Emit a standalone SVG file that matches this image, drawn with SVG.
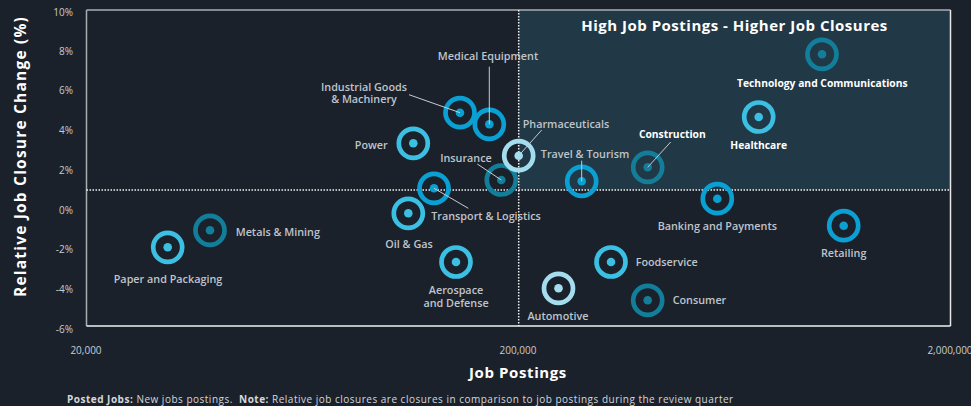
<svg xmlns="http://www.w3.org/2000/svg" width="971" height="406" viewBox="0 0 971 406">
<style>
text{font-family:"Open Sans","Liberation Sans",sans-serif}
.lab{font-size:10.8px;font-weight:600;fill:#BFC5CB}
.hl{font-size:10.3px;font-weight:700;fill:#FFFFFF}
.tick{font-size:10px;fill:#C8CCD1}
.ring{fill:none;stroke-width:4.7}
.c1{stroke:#127E9A}.d1{fill:#127E9A}
.c2{stroke:#3BC0E3}.d2{fill:#3BC0E3}
.c3{stroke:#0AA0D4}.d3{fill:#0AA0D4}
.c4{stroke:#A4DDEE}.d4{fill:#A4DDEE}
.dot{stroke:#F2F2F2;stroke-width:1.5;stroke-dasharray:1.5 1.5;fill:none}
.lead{stroke:#C8CCD1;stroke-width:1}
</style>
<rect width="971" height="406" fill="#1B212B"/>
<g id="plot">
<rect x="518.7" y="10" width="431.8" height="180" fill="#213846"/>
<line x1="86.5" y1="10" x2="950.5" y2="10" stroke="#A9AEB3" stroke-width="1.5"/>
<line x1="86.5" y1="10" x2="86.5" y2="326" stroke="#A9AEB3" stroke-width="1.5"/>
<line x1="950.5" y1="10" x2="950.5" y2="326" stroke="#E8E8E8" stroke-width="1.5"/>
<line x1="86.5" y1="326" x2="950.5" y2="326" stroke="#F2F2F2" stroke-width="1.5"/>
<line class="dot" x1="86.5" y1="190" x2="950.5" y2="190"/>
<line class="dot" x1="518.7" y1="10" x2="518.7" y2="326"/>
</g>
<g id="yticks" text-anchor="end">
<text x="73" y="15.5" class="tick">10%</text>
<text x="73" y="55" class="tick">8%</text>
<text x="73" y="94" class="tick">6%</text>
<text x="73" y="134" class="tick">4%</text>
<text x="73" y="174" class="tick">2%</text>
<text x="73" y="213.5" class="tick">0%</text>
<text x="73" y="253" class="tick">-2%</text>
<text x="73" y="293" class="tick">-4%</text>
<text x="73" y="332.5" class="tick">-6%</text>
</g>
<g id="xticks" text-anchor="middle">
<text x="86" y="353.5" class="tick">20,000</text>
<text x="518" y="353.5" class="tick">200,000</text>
<text x="950" y="353.5" class="tick">2,000,000</text>
</g>
<text x="734.5" y="31" text-anchor="middle" style="font-size:15px;font-weight:700;fill:#FFFFFF;letter-spacing:0.5px">High Job Postings - Higher Job Closures</text>
<text transform="translate(25.5,156.5) rotate(-90)" text-anchor="middle" style="font-size:15.5px;font-weight:700;fill:#FFFFFF;letter-spacing:1.2px">Relative Job Closure Change (%)</text>
<text x="518" y="377.5" text-anchor="middle" style="font-size:15px;font-weight:700;fill:#FFFFFF;letter-spacing:0.6px">Job Postings</text>
<text x="67" y="403" style="font-size:10px;fill:#D5D8DC;letter-spacing:0.5px"><tspan font-weight="700">Posted Jobs:</tspan> New jobs postings.&#160; <tspan font-weight="700">Note:</tspan> Relative job closures are closures in comparison to job postings during the review quarter</text>

<g id="n-metals"><circle class="ring c1" cx="210" cy="230.3" r="14.5"/><circle class="d1" cx="210" cy="230.3" r="4.3"/><text class="lab" x="235.7" y="235.5">Metals &amp; Mining</text></g>
<g id="n-paper"><circle class="ring c2" cx="167.7" cy="247.3" r="14.5"/><circle class="d2" cx="167.7" cy="247.3" r="4.3"/><text class="lab" x="168" y="282.5" text-anchor="middle">Paper and Packaging</text></g>
<g id="n-power"><circle class="ring c2" cx="413.3" cy="143.3" r="14.5"/><circle class="d2" cx="413.3" cy="143.3" r="4.3"/><text class="lab" x="387.7" y="148.5" text-anchor="end">Power</text></g>
<g id="n-oilgas"><circle class="ring c2" cx="408.3" cy="213.3" r="14.5"/><circle class="d2" cx="408.3" cy="213.3" r="4.3"/><text class="lab" x="409" y="248" text-anchor="middle">Oil &amp; Gas</text></g>
<g id="n-transport"><circle class="ring c3" cx="434" cy="188.3" r="14.5"/><circle class="d3" cx="434" cy="188.3" r="4.3"/><text class="lab" x="486" y="219.5" text-anchor="middle">Transport &amp; Logistics</text></g>
<g id="n-aerospace"><circle class="ring c2" cx="456" cy="262" r="14.5"/><circle class="d2" cx="456" cy="262" r="4.3"/><text class="lab" x="456" y="294.3" text-anchor="middle">Aerospace<tspan x="456" dy="12.4">and Defense</tspan></text></g>
<g id="n-industrial"><circle class="ring c3" cx="460" cy="112.7" r="14.5"/><circle class="d3" cx="460" cy="112.7" r="4.3"/><text class="lab" x="364" y="90.6" text-anchor="middle">Industrial Goods<tspan x="364" dy="12.2">&amp; Machinery</tspan></text></g>
<g id="n-medical"><circle class="ring c3" cx="489.3" cy="124.3" r="14.5"/><circle class="d3" cx="489.3" cy="124.3" r="4.3"/><text class="lab" x="488" y="59.5" text-anchor="middle">Medical Equipment</text></g>
<g id="n-insurance"><circle class="ring c1" cx="501.3" cy="180" r="14.5"/><circle class="d1" cx="501.3" cy="180" r="4.3"/><text class="lab" x="466" y="161.5" text-anchor="middle">Insurance</text></g>
<g id="n-pharma"><circle class="ring c4" cx="518.7" cy="155.7" r="14.5"/><circle class="d4" cx="518.7" cy="155.7" r="4.3"/><text class="lab" x="566" y="127.5" text-anchor="middle">Pharmaceuticals</text></g>
<g id="n-automotive"><circle class="ring c4" cx="558.5" cy="288.3" r="14.5"/><circle class="d4" cx="558.5" cy="288.3" r="4.3"/><text class="lab" x="558" y="320" text-anchor="middle">Automotive</text></g>
<g id="n-travel"><circle class="ring c3" cx="581.7" cy="181.3" r="14.5"/><circle class="d3" cx="581.7" cy="181.3" r="4.3"/><text class="lab" x="585" y="157.5" text-anchor="middle">Travel &amp; Tourism</text></g>
<g id="n-foodservice"><circle class="ring c2" cx="611" cy="262" r="14.5"/><circle class="d2" cx="611" cy="262" r="4.3"/><text class="lab" x="635.7" y="266">Foodservice</text></g>
<g id="n-construction"><circle class="ring c1" cx="647.7" cy="167.3" r="14.5"/><circle class="d1" cx="647.7" cy="167.3" r="4.3"/><text class="hl" x="672.3" y="137.5" text-anchor="middle">Construction</text></g>
<g id="n-consumer"><circle class="ring c1" cx="647.7" cy="300.3" r="14.5"/><circle class="d1" cx="647.7" cy="300.3" r="4.3"/><text class="lab" x="672.7" y="304">Consumer</text></g>
<g id="n-banking"><circle class="ring c3" cx="717.3" cy="198.7" r="14.5"/><circle class="d3" cx="717.3" cy="198.7" r="4.3"/><text class="lab" x="717.3" y="230" text-anchor="middle">Banking and Payments</text></g>
<g id="n-healthcare"><circle class="ring c2" cx="758.7" cy="117" r="14.5"/><circle class="d2" cx="758.7" cy="117" r="4.3"/><text class="hl" x="758.7" y="149" text-anchor="middle">Healthcare</text></g>
<g id="n-tech"><circle class="ring c1" cx="822" cy="54.3" r="14.5"/><circle class="d1" cx="822" cy="54.3" r="4.3"/><text class="hl" x="822.3" y="86.5" text-anchor="middle">Technology and Communications</text></g>
<g id="n-retailing"><circle class="ring c3" cx="843.7" cy="225.7" r="14.5"/><circle class="d3" cx="843.7" cy="225.7" r="4.3"/><text class="lab" x="843.7" y="257" text-anchor="middle">Retailing</text></g>

<g id="leaders">
<line class="lead" x1="409" y1="94.7" x2="460" y2="112.7"/>
<line class="lead" x1="489.3" y1="66.7" x2="489.3" y2="124.3"/>
<line class="lead" x1="541.7" y1="130" x2="518.7" y2="155.7"/>
<line class="lead" x1="477.3" y1="164" x2="501.3" y2="180"/>
<line class="lead" x1="581.7" y1="160.7" x2="581.7" y2="181.3"/>
<line class="lead" x1="670.7" y1="142" x2="647.7" y2="167.3" stroke="#FFFFFF"/>
<line class="lead" x1="434" y1="188.3" x2="468.3" y2="208.3"/>
</g>
</svg>
